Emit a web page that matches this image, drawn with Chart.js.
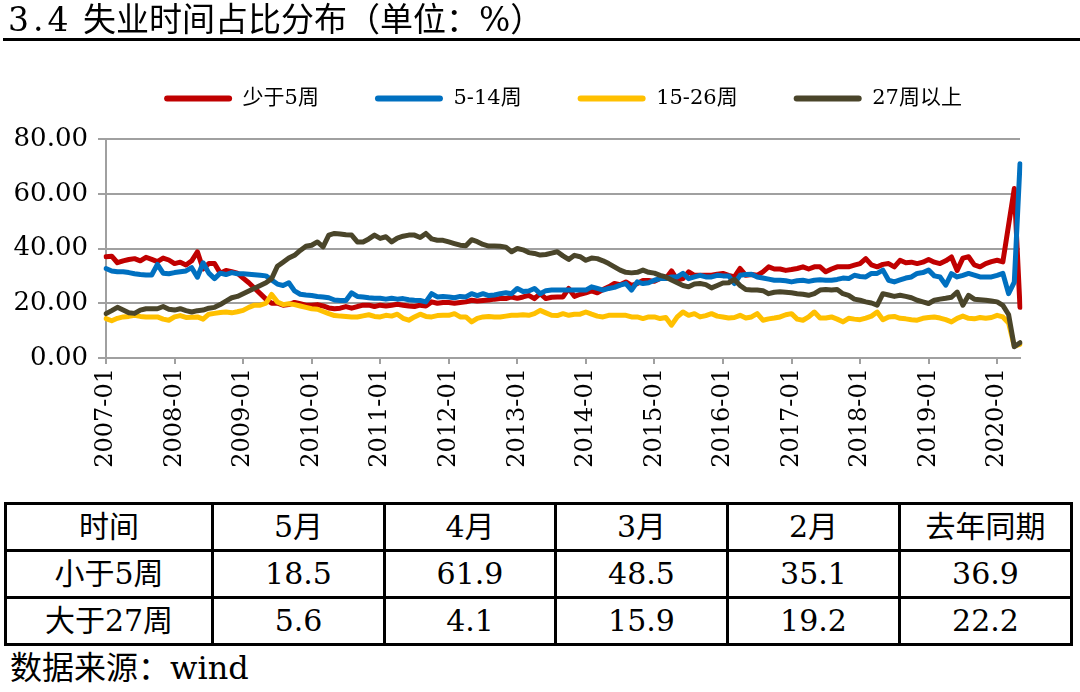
<!DOCTYPE html>
<html lang="zh">
<head>
<meta charset="utf-8">
<title>失业时间占比分布</title>
<script src="https://cdn.jsdelivr.net/npm/chart.js@4.4.1/dist/chart.umd.min.js"></script>
<style>
	html, body { margin: 0; padding: 0; background: #fff; }
	body { width: 1080px; height: 692px; position: relative; overflow: hidden; color: #000;
		font-family: 'DejaVu Serif', 'Noto Sans CJK SC', serif; }
	#wrap { position: absolute; left: 0; top: 0; width: 1080px; height: 500px; }
	#title { position: absolute; left: 8px; top: 1px; font-size: 33px; line-height: 38px; white-space: nowrap; }
	#title .num { letter-spacing: 4px; }
	#rule { position: absolute; left: 3px; right: 0; top: 38px; height: 3px; background: #000; }
	#summary { position: absolute; left: 4px; top: 502px; border-collapse: collapse; table-layout: fixed; font-size: 30px; }
	#summary td { border: 3px solid #000; height: 44px; padding: 0; text-align: center; line-height: 40px; white-space: nowrap; }
	#source { position: absolute; left: 10px; top: 648px; font-size: 32px; line-height: 40px; white-space: nowrap; }
</style>
</head>
<body>
<div id="wrap"><canvas id="chart" width="1080" height="500"></canvas></div>
<div id="title"><span class="num">3.4</span> 失业时间占比分布（单位：%）</div>
<div id="rule"></div>
<table id="summary"></table>
<div id="source">数据来源：wind</div>

<script>
// monthly, 2007-01 .. 2020-05
var startYear = 2007;
var lastMonth = '2020-05';

var lessThan5 = [
	37.0, 37.2, 34.8, 35.5, 36.0, 36.3, 35.5, 36.8, 36.0, 35.2, 36.5, 35.8,
	34.5, 35.0, 34.0, 35.5, 38.8, 32.5, 34.5, 34.5, 31.0, 32.0, 31.5, 31.0,
	29.2, 27.5, 25.5, 23.5, 21.5, 20.0, 20.0, 19.3, 19.5, 20.3, 19.8, 19.3,
	19.3, 19.5, 19.0, 18.3, 18.0, 18.2, 18.8, 18.2, 18.8, 19.3, 19.3, 18.8,
	19.3, 19.0, 19.3, 19.6, 19.3, 19.0, 18.8, 19.3, 19.0, 20.5, 20.0, 20.3,
	20.3, 20.0, 20.3, 20.5, 21.1, 20.8, 21.0, 21.2, 21.5, 21.7, 21.7, 22.3,
	21.8, 22.3, 22.9, 21.7, 23.5, 21.7, 22.2, 22.3, 22.3, 25.4, 22.5, 23.3,
	23.8, 24.5, 23.8, 25.0, 26.0, 27.2, 26.8, 27.8, 26.5, 27.2, 28.3, 28.3,
	28.0, 29.0, 29.0, 31.8, 28.5, 29.0, 31.5, 30.2, 30.2, 30.2, 30.2, 30.6,
	30.9, 30.2, 29.6, 32.7, 30.2, 30.5, 30.2, 31.5, 33.3, 32.5, 32.5, 32.0,
	32.3, 32.7, 33.3, 32.5, 33.3, 33.3, 31.5, 32.5, 33.3, 33.3, 33.3, 33.9,
	34.5, 36.3, 34.0, 33.3, 34.2, 34.5, 33.3, 35.7, 34.8, 35.0, 34.5, 35.0,
	36.0, 35.0, 34.5, 35.5, 36.9, 32.0, 36.5, 37.0, 34.0, 33.3, 34.5, 35.2,
	35.7, 35.1, 48.5, 61.9, 18.5
];

var weeks5to14 = [
	32.7, 31.8, 31.5, 31.5, 31.2, 30.8, 30.5, 30.3, 30.3, 34.2, 31.0, 30.8,
	31.2, 31.5, 31.8, 33.0, 29.5, 34.8, 31.0, 29.0, 31.0, 30.5, 31.2, 30.8,
	30.8, 30.6, 30.4, 30.2, 30.0, 28.5, 27.0, 26.5, 27.5, 24.5, 23.3, 23.0,
	22.8, 22.5, 22.3, 22.0, 21.2, 21.0, 21.0, 23.8, 22.5, 22.3, 22.0, 21.8,
	21.8, 21.5, 21.8, 21.5, 21.7, 21.3, 21.1, 21.0, 20.5, 23.5, 22.3, 22.5,
	22.3, 22.0, 22.5, 22.3, 23.5, 22.8, 23.5, 22.8, 23.0, 23.5, 23.8, 23.5,
	25.4, 24.3, 24.5, 25.4, 23.5, 24.6, 24.8, 24.8, 24.8, 24.8, 24.8, 24.8,
	24.8, 26.0, 25.4, 24.8, 25.4, 25.8, 26.6, 27.2, 24.8, 27.8, 27.2, 27.5,
	28.4, 29.0, 29.0, 29.6, 29.6, 30.9, 29.0, 29.6, 30.2, 29.6, 29.6, 30.2,
	30.0, 30.0, 27.2, 30.2, 30.5, 30.6, 29.6, 29.2, 28.8, 28.4, 28.4, 28.2,
	27.8, 28.2, 28.4, 28.0, 28.4, 28.6, 28.4, 28.4, 28.7, 29.2, 29.0, 30.2,
	29.8, 29.6, 30.9, 30.9, 32.1, 28.4, 27.8, 28.5, 29.2, 29.6, 30.9, 31.2,
	32.1, 30.0, 29.6, 26.6, 30.8, 29.6, 30.2, 30.9, 30.3, 29.6, 29.6, 29.6,
	30.2, 30.9, 23.5, 27.7, 71.0
];

var weeks15to26 = [
	14.4, 13.6, 14.5, 15.0, 15.2, 15.6, 15.2, 15.0, 15.0, 15.0, 14.2, 13.8,
	15.0, 15.5, 14.8, 14.9, 15.0, 14.2, 16.0, 16.3, 16.6, 16.8, 16.5, 16.9,
	17.4, 18.5, 19.3, 19.3, 20.0, 23.2, 20.5, 19.5, 19.8, 19.5, 19.0, 18.5,
	18.0, 17.8, 17.0, 16.2, 15.5, 15.3, 15.2, 15.0, 15.0, 15.4, 15.8, 15.2,
	15.0, 15.6, 15.3, 16.0, 14.5, 13.8, 15.0, 16.0, 15.2, 15.0, 15.5, 15.6,
	15.6, 16.2, 15.0, 15.0, 13.2, 14.5, 15.0, 15.2, 15.0, 15.0, 15.3, 15.6,
	15.6, 15.8, 15.6, 16.2, 17.4, 16.5, 15.6, 15.5, 16.2, 15.6, 16.0, 16.0,
	16.8, 16.0, 15.3, 15.0, 15.6, 15.6, 15.6, 15.6, 15.0, 15.0, 14.4, 15.0,
	15.0, 14.4, 14.8, 12.0, 15.0, 16.8, 15.6, 16.2, 15.0, 15.5, 16.2, 15.3,
	15.0, 14.6, 14.8, 15.6, 14.6, 15.0, 16.2, 13.8, 14.3, 14.6, 15.0, 15.8,
	16.2, 14.2, 13.8, 15.0, 16.8, 14.6, 14.6, 15.0, 14.2, 13.2, 14.5, 14.2,
	14.0, 14.6, 15.3, 16.8, 14.0, 15.0, 15.2, 14.5, 14.3, 14.0, 13.8, 14.5,
	14.8, 15.0, 14.6, 14.0, 13.2, 14.5, 15.3, 14.5, 14.3, 14.8, 14.5, 14.8,
	15.6, 15.0, 12.8, 4.3, 5.0
];

var weeks27plus = [
	16.2, 17.3, 18.5, 17.5, 16.5, 16.3, 17.5, 18.0, 18.0, 18.0, 18.8, 17.8,
	17.5, 18.0, 17.3, 16.8, 17.3, 17.5, 18.2, 18.5, 19.5, 20.8, 22.0, 22.5,
	23.5, 24.5, 25.5, 26.5, 27.5, 29.0, 33.5, 35.0, 36.5, 37.5, 39.3, 40.8,
	41.2, 42.4, 40.6, 44.9, 45.5, 45.3, 45.0, 44.9, 42.4, 42.4, 43.5, 44.9,
	43.7, 44.3, 42.4, 43.8, 44.5, 44.9, 44.9, 44.0, 45.5, 43.5, 43.0, 43.0,
	42.4, 41.8, 41.2, 41.0, 43.2, 42.5, 41.5, 40.9, 40.9, 40.8, 40.5, 38.8,
	40.0, 39.5, 38.5, 38.2, 37.6, 37.8, 38.3, 38.8, 37.3, 36.0, 37.5, 37.0,
	35.7, 36.5, 36.3, 35.5, 34.5, 33.3, 32.1, 31.3, 31.1, 31.3, 32.1, 31.3,
	31.0, 30.2, 29.6, 28.5, 27.5, 26.5, 26.0, 27.0, 27.2, 26.8, 25.6, 26.5,
	27.4, 27.5, 28.7, 26.5, 25.0, 24.8, 24.8, 24.6, 23.5, 24.0, 24.2, 24.0,
	23.8, 23.5, 23.3, 22.9, 23.5, 24.8, 25.0, 24.8, 25.0, 23.5, 22.9, 21.5,
	21.1, 20.5, 20.1, 19.3, 23.5, 23.0, 22.5, 22.9, 22.5, 22.0, 21.1, 20.5,
	19.9, 21.1, 21.5, 21.8, 22.2, 24.1, 19.3, 22.9, 21.5, 21.3, 21.1, 20.8,
	20.5, 19.2, 15.9, 4.1, 5.6
];

var seriesNames = [ '少于5周', '5-14周', '15-26周', '27周以上' ];
var seriesColors = [ '#C00000', '#0070C0', '#FFC000', '#4A452A' ];
var yTicks = [ 0, 20, 40, 60, 80 ];

// summary table under the chart
var tableHead = [ '时间', '5月', '4月', '3月', '2月', '去年同期' ];
var tableRowNames = [ '小于5周', '大于27周' ];
var tableShort = [ 18.5, 61.9, 48.5, 35.1, 36.9 ];
var tableLong = [ 5.6, 4.1, 15.9, 19.2, 22.2 ];

( function () {
	'use strict';

	var FONT = "'DejaVu Serif', 'Noto Sans CJK SC', serif";
	var GRID = '#A0A0A0';

	function buildLabels() {
		var labels = [];
		var y = startYear;
		var m = 1;
		while ( true ) {
			var s = y + '-' + ( m < 10 ? '0' + m : m );
			labels.push( s );
			if ( s === lastMonth ) {
				break;
			}
			m++;
			if ( m > 12 ) {
				m = 1;
				y++;
			}
		}
		return labels;
	}

	function buildTable() {
		var table = document.getElementById( 'summary' );
		var widths = [ 207, 172, 171, 172, 172, 172 ];
		var rows = [ tableHead, [ tableRowNames[0] ].concat( tableShort ), [ tableRowNames[1] ].concat( tableLong ) ];
		var html = '<colgroup>';
		widths.forEach( function ( w ) {
			html += '<col style="width:' + w + 'px">';
		} );
		html += '</colgroup>';
		rows.forEach( function ( row ) {
			html += '<tr>';
			row.forEach( function ( cell ) {
				html += '<td>' + ( typeof cell === 'number' ? cell.toFixed( 1 ) : cell ) + '</td>';
			} );
			html += '</tr>';
		} );
		table.innerHTML = html;
	}

	// push the plot down below the legend
	var legendGap = {
		id: 'legendGap',
		beforeInit: function ( chart ) {
			var fit = chart.legend.fit;
			chart.legend.fit = function () {
				fit.call( this );
				this.height += 20;
			};
		},
	};

	function initChart() {
		var series = [ lessThan5, weeks5to14, weeks15to26, weeks27plus ];
		var datasets = series.map( function ( values, i ) {
			return {
				label: seriesNames[i],
				data: values,
				borderColor: seriesColors[i],
				backgroundColor: seriesColors[i],
				borderWidth: 5,
				pointRadius: 0,
				tension: 0,
				borderJoinStyle: 'round',
				borderCapStyle: 'round',
				order: series.length - i,
			};
		} );

		new Chart( document.getElementById( 'chart' ), {
			type: 'line',
			data: {
				labels: buildLabels(),
				datasets: datasets,
			},
			options: {
				responsive: false,
				animation: false,
				layout: {
					padding: { top: 32, left: 0, right: 60, bottom: 0 },
				},
				plugins: {
					tooltip: { enabled: false },
					legend: {
						position: 'top',
						fullSize: false,
						labels: {
							color: '#000',
							font: { family: FONT, size: 21 },
							boxWidth: 68,
							boxHeight: 6,
							padding: 56,
							useBorderRadius: true,
							borderRadius: 3,
							generateLabels: function ( chart ) {
								return chart.data.datasets.map( function ( ds, i ) {
									return {
										text: ds.label,
										fillStyle: ds.borderColor,
										strokeStyle: ds.borderColor,
										lineWidth: 0,
										borderRadius: 3,
										fontColor: '#000',
										datasetIndex: i,
										hidden: false,
									};
								} );
							},
						},
					},
				},
				scales: {
					x: {
						type: 'category',
						offset: false,
						afterFit: function ( scale ) {
							scale.height = 142;
						},
						border: { color: GRID, width: 2 },
						grid: {
							drawOnChartArea: false,
							drawTicks: true,
							tickLength: 6,
							color: GRID,
							lineWidth: 2,
						},
						ticks: {
							autoSkip: false,
							minRotation: 90,
							maxRotation: 90,
							padding: 4,
							color: '#000',
							font: { family: FONT, size: 24 },
							callback: function ( value ) {
								var label = this.getLabelForValue( value );
								return /-01$/.test( label ) ? label : null;
							},
						},
					},
					y: {
						min: yTicks[0],
						max: yTicks[yTicks.length - 1],
						afterFit: function ( scale ) {
							scale.width = 106;
						},
						afterBuildTicks: function ( scale ) {
							scale.ticks = yTicks.map( function ( v ) {
								return { value: v };
							} );
						},
						border: { color: GRID, width: 2 },
						grid: {
							color: GRID,
							lineWidth: 2,
							tickLength: 8,
						},
						ticks: {
							padding: 10,
							color: '#000',
							font: { family: FONT, size: 26 },
							callback: function ( value ) {
								return value.toFixed( 2 );
							},
						},
					},
				},
			},
			plugins: [ legendGap ],
		} );
	}

	buildTable();
	if ( document.readyState === 'loading' ) {
		document.addEventListener( 'DOMContentLoaded', initChart );
	} else {
		initChart();
	}
} )();
</script>
</body>
</html>
